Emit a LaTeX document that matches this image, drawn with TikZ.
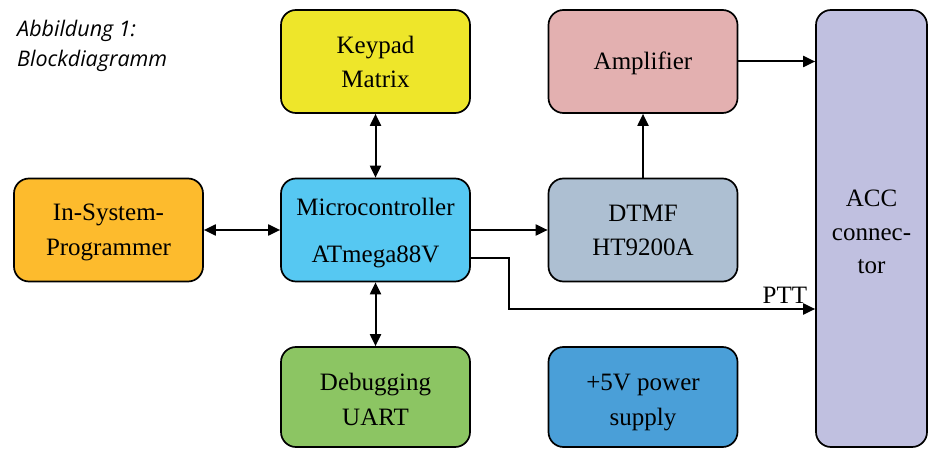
\documentclass[tikz,border=0pt]{standalone}
\usepackage{fontspec}
\setmainfont{Liberation Serif}
\newfontfamily\capfont{Open Sans}
\usetikzlibrary{arrows.meta,calc}
\definecolor{cKeypad}{RGB}{238,230,42}
\definecolor{cAmp}{RGB}{227,176,176}
\definecolor{cAcc}{RGB}{192,192,224}
\definecolor{cIsp}{RGB}{253,187,45}
\definecolor{cMc}{RGB}{86,200,242}
\definecolor{cDtmf}{RGB}{173,191,210}
\definecolor{cDbg}{RGB}{140,197,99}
\definecolor{cPwr}{RGB}{74,159,216}
% lower one line of block text by #1 without changing its box size
\newcommand{\dn}[2]{\raisebox{-#1}[\height][\depth]{#2}}
\tikzset{
  blk/.style={draw=black,line width=1.7pt,rounded corners=15pt,inner sep=0pt,
    minimum width=189pt,minimum height=103pt,align=center,
    font=\fontsize{25}{34}\selectfont},
  conn/.style={line width=2pt},
  tip/.style={-{Triangle[length=12pt,width=11pt]}},
  both/.style={{Triangle[length=12pt,width=11pt]}-{Triangle[length=12pt,width=11pt]}},
}
\begin{document}
\begin{tikzpicture}[x=1pt,y=-1pt]
\useasboundingbox (0,0) rectangle (934,449);
% caption
\node[anchor=base west,inner sep=0pt,font=\capfont\itshape\fontsize{21.5}{30.5}\selectfont,align=left] (cap) at (17,67) {Abbildung 1:\\Blockdiagramm};
% blocks
\node[blk,fill=cKeypad] (kp) at (375.5,61.5) {Keypad\\Matrix};
\node[blk,fill=cAmp] (amp) at (643,61.5) {\dn{2pt}{Amplifier}};
\node[blk,fill=cIsp] (isp) at (108.5,230) {\dn{2pt}{In-System-}\\\dn{3pt}{Programmer}};
\node[blk,fill=cMc] (mc) at (375.5,230) {\dn{2pt}{Microcontroller}\\[11pt]\dn{4pt}{ATmega88V}};
\node[blk,fill=cDtmf] (dt) at (643,230) {DTMF\\HT9200A};
\node[blk,fill=cDbg,minimum height=100pt] (dbg) at (375.5,397) {\dn{2pt}{Debugging}\\\dn{3pt}{UART}};
\node[blk,fill=cPwr,minimum height=100pt] (pwr) at (643,397) {\dn{5pt}{+5V power}\\\dn{6pt}{supply}};
\node[blk,fill=cAcc,minimum width=111pt,minimum height=437pt] (acc) at (871.5,228.5) {\dn{4pt}{ACC}\\\dn{4pt}{connec-}\\\dn{3pt}{tor}};
% connectors
\draw[conn,both] (kp.south) -- (mc.north);
\draw[conn,both] (mc.south) -- (dbg.north);
\draw[conn,both] (isp.east) -- (mc.west);
\draw[conn,tip] (mc.east) -- (dt.west);
\draw[conn,tip] (dt.north) -- (amp.south);
\draw[conn,tip] (amp.east) -- (amp.east -| acc.west);
\coordinate (pttbend) at (509,309);
\draw[conn,tip] ([yshift=-28pt]mc.east) -| (pttbend) -- (pttbend -| acc.west)
  node[pos=1,anchor=base east,inner sep=0pt,xshift=-7pt,yshift=6pt,font=\fontsize{25}{34}\selectfont] (ptt) {PTT};
\end{tikzpicture}
\end{document}
